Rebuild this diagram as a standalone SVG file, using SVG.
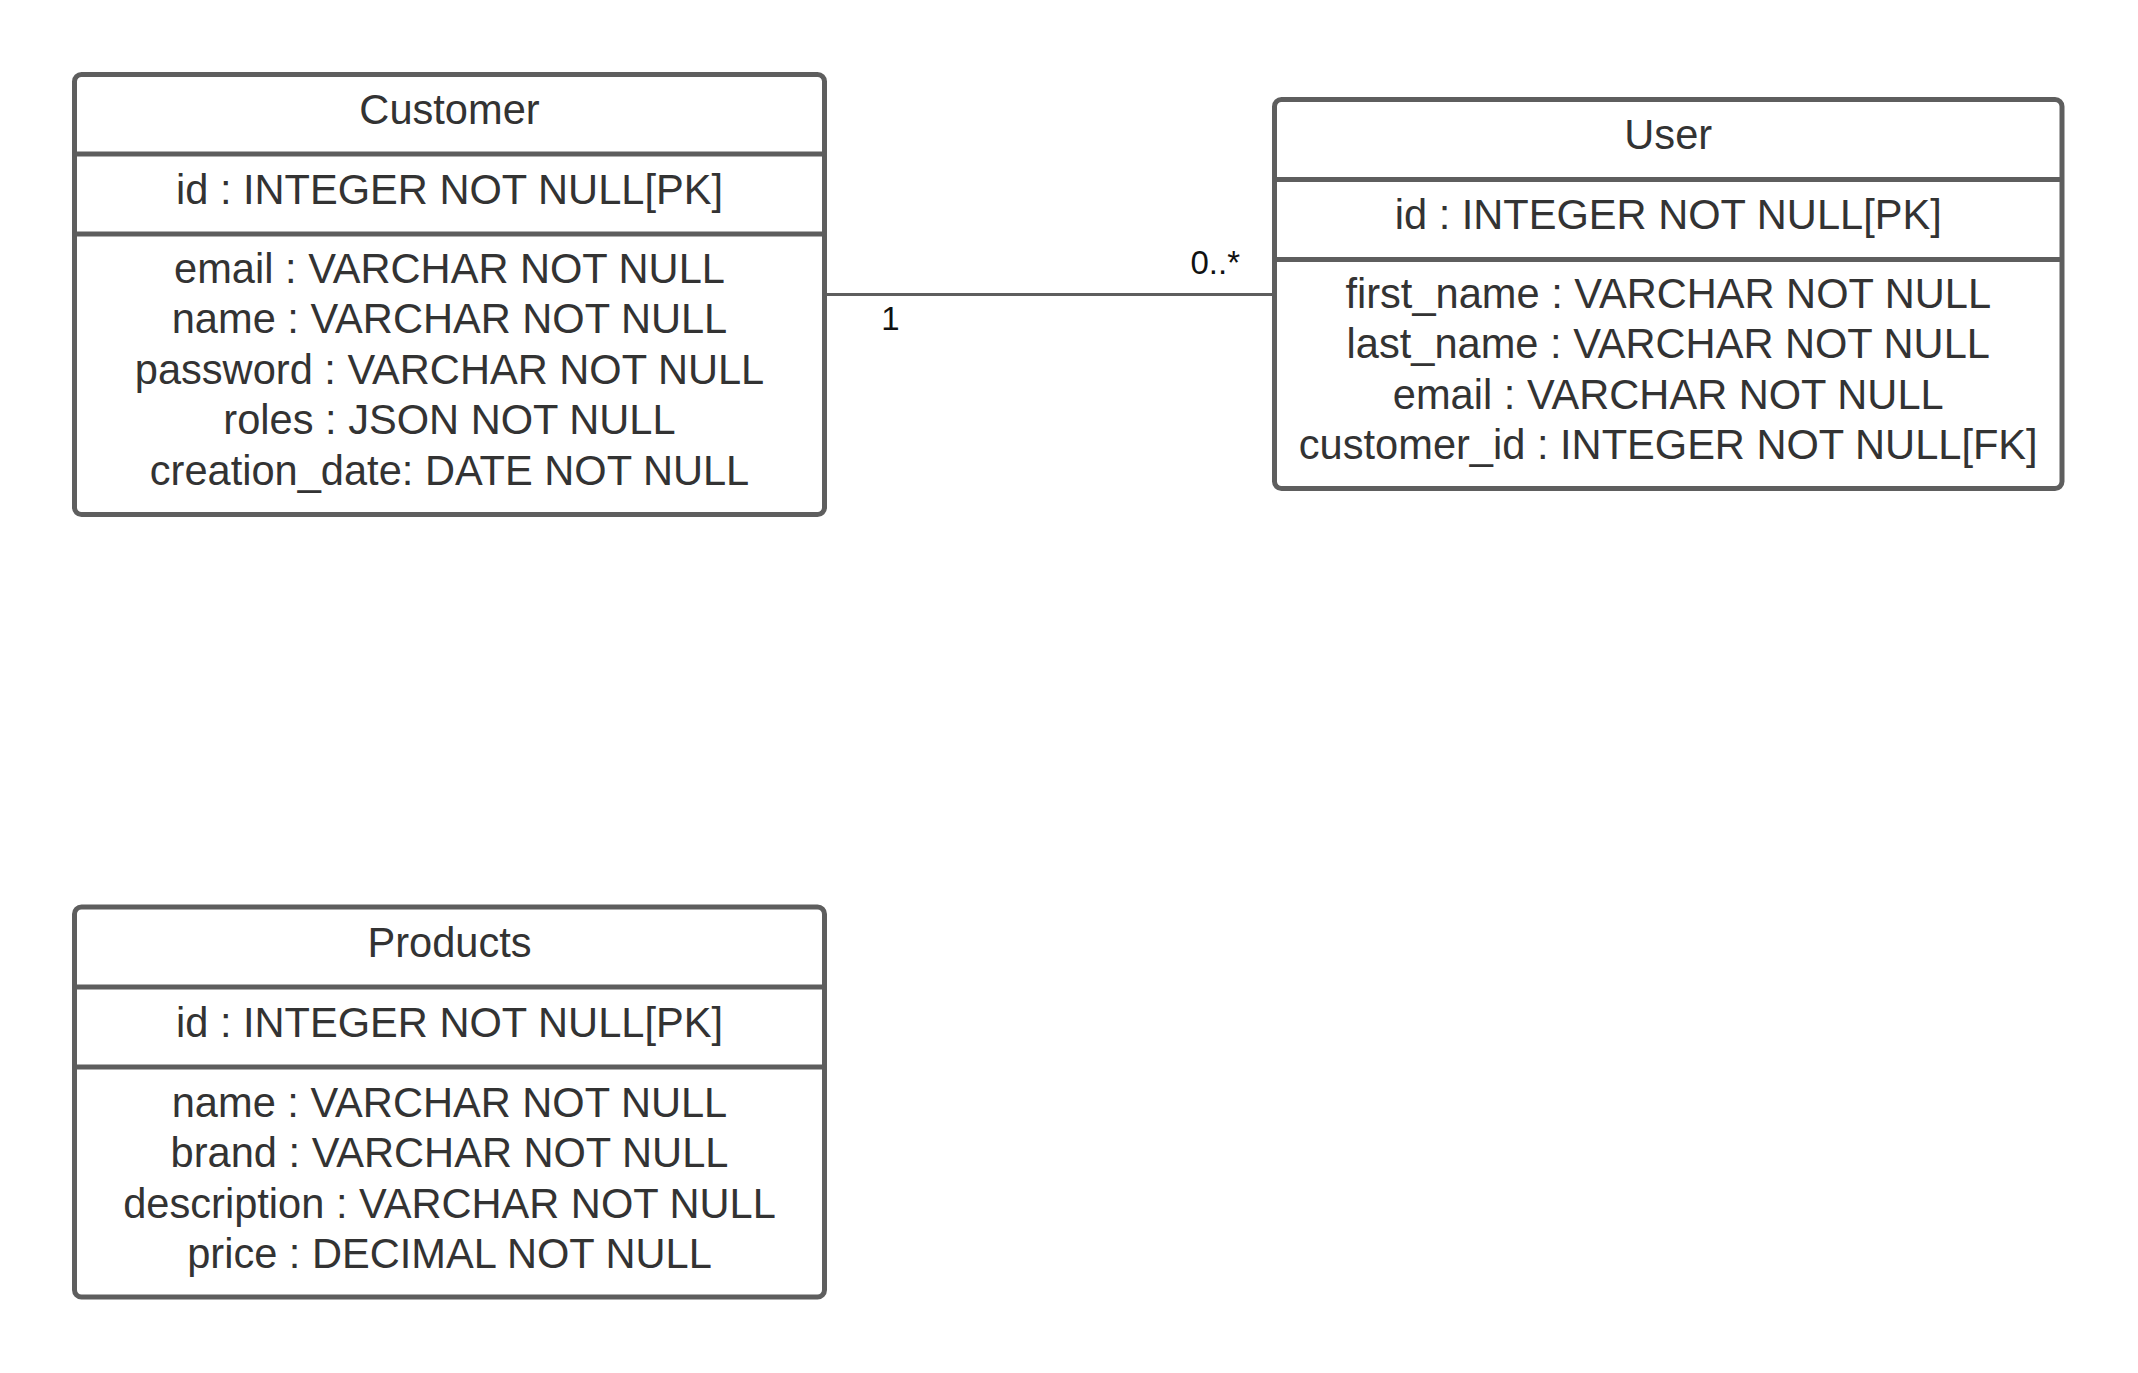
<svg xmlns="http://www.w3.org/2000/svg" width="2138" height="1373" viewBox="0 0 2138 1373">
  <style>
    .box { fill: #ffffff; stroke: #5e5e5e; stroke-width: 5; }
    .div { stroke: #5e5e5e; stroke-width: 5; }
    .t { font-family: "Liberation Sans", Arial, sans-serif; font-size: 41.6px; fill: #333333; text-anchor: middle; }
    .conn { stroke: #5e5e5e; stroke-width: 3; fill: none; }
    .lbl { font-family: "Liberation Sans", Arial, sans-serif; font-size: 33px; fill: #111111; }
  </style>
  <rect x="0" y="0" width="2138" height="1373" fill="#ffffff"/>

  <g id="connectors">
    <line class="conn" x1="827" y1="294.5" x2="1272" y2="294.5"/>
    <text class="lbl" x="890.5" y="329.5" text-anchor="middle">1</text>
    <text class="lbl" x="1240" y="273.5" text-anchor="end">0..*</text>
  </g>

  <g id="customer">
    <rect class="box" x="74.5" y="74.5" width="750" height="440" rx="7"/>
    <line class="div" x1="74.5" y1="154" x2="824.5" y2="154"/>
    <line class="div" x1="74.5" y1="234" x2="824.5" y2="234"/>
    <text class="t" x="449.5" y="123.5">Customer</text>
    <text class="t" x="449.5" y="203.5">id : INTEGER NOT NULL[PK]</text>
    <text class="t" x="449.5" y="283">email : VARCHAR NOT NULL</text>
    <text class="t" x="449.5" y="333.4">name : VARCHAR NOT NULL</text>
    <text class="t" x="449.5" y="383.8">password : VARCHAR NOT NULL</text>
    <text class="t" x="449.5" y="434.2">roles : JSON NOT NULL</text>
    <text class="t" x="449.5" y="484.6">creation_date: DATE NOT NULL</text>
  </g>

  <g id="user">
    <rect class="box" x="1274.5" y="99.5" width="787.5" height="389" rx="7"/>
    <line class="div" x1="1274.5" y1="179.5" x2="2062" y2="179.5"/>
    <line class="div" x1="1274.5" y1="259.5" x2="2062" y2="259.5"/>
    <text class="t" x="1668.25" y="149">User</text>
    <text class="t" x="1668.25" y="229">id : INTEGER NOT NULL[PK]</text>
    <text class="t" x="1668.25" y="307.9">first_name : VARCHAR NOT NULL</text>
    <text class="t" x="1668.25" y="358.3">last_name : VARCHAR NOT NULL</text>
    <text class="t" x="1668.25" y="408.7">email : VARCHAR NOT NULL</text>
    <text class="t" x="1668.25" y="459.1">customer_id : INTEGER NOT NULL[FK]</text>
  </g>

  <g id="products">
    <rect class="box" x="74.5" y="907" width="750" height="390" rx="7"/>
    <line class="div" x1="74.5" y1="987" x2="824.5" y2="987"/>
    <line class="div" x1="74.5" y1="1067" x2="824.5" y2="1067"/>
    <text class="t" x="449.5" y="957">Products</text>
    <text class="t" x="449.5" y="1037">id : INTEGER NOT NULL[PK]</text>
    <text class="t" x="449.5" y="1116.9">name : VARCHAR NOT NULL</text>
    <text class="t" x="449.5" y="1167.3">brand : VARCHAR NOT NULL</text>
    <text class="t" x="449.5" y="1217.7">description : VARCHAR NOT NULL</text>
    <text class="t" x="449.5" y="1268.1">price : DECIMAL NOT NULL</text>
  </g>
</svg>
